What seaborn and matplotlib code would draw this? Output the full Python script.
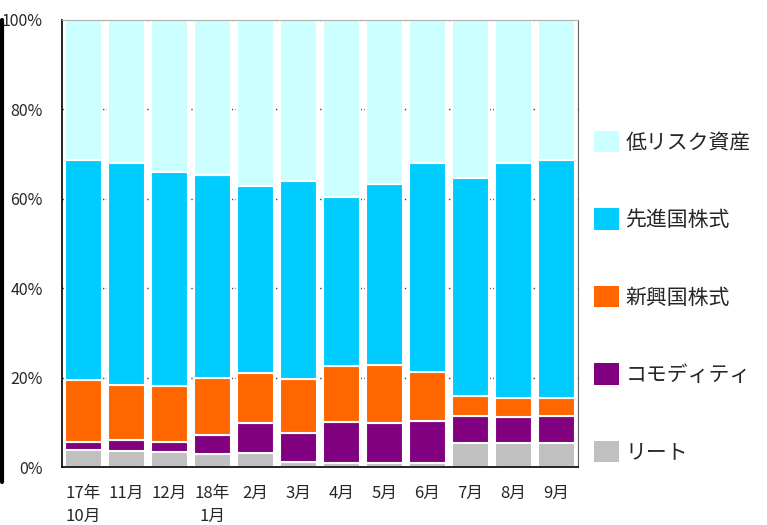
import numpy as np
import matplotlib
matplotlib.use('Agg')
import matplotlib.pyplot as plt
from matplotlib.patches import Patch
from matplotlib.lines import Line2D
import seaborn as sns

sns.set_style('white')
plt.rcParams['font.family'] = ['Noto Sans CJK JP', 'DejaVu Sans']

# Data (percent shares per month)
months = ['17年\n10月', '11月', '12月', '18年\n1月', '2月', '3月',
          '4月', '5月', '6月', '7月', '8月', '9月']
reit = [3.7, 3.6, 3.4, 2.8, 3.2, 1.2, 0.9, 0.9, 0.9, 5.4, 5.4, 5.4]
commodity = [1.8, 2.4, 2.3, 4.4, 6.7, 6.3, 9.1, 9.0, 9.5, 5.9, 5.8, 5.9]
emerging = [13.9, 12.4, 12.4, 12.6, 11.2, 12.1, 12.5, 13.0, 10.8, 4.5, 4.2, 4.1]
developed = [49.3, 49.7, 47.8, 45.6, 41.7, 44.4, 37.8, 40.3, 46.8, 48.8, 52.5, 53.3]
low_risk = [31.3, 31.9, 34.1, 34.6, 37.2, 36.0, 39.7, 36.8, 32.0, 35.4, 32.1, 31.3]

series = [('リート', reit, '#C0C0C0'),
          ('コモディティ', commodity, '#800080'),
          ('新興国株式', emerging, '#FF6600'),
          ('先進国株式', developed, '#00CCFF'),
          ('低リスク資産', low_risk, '#CCFFFF')]

fig = plt.figure(figsize=(7.67, 5.25), dpi=100)
ax = fig.add_axes([62 / 767, 1 - 467 / 525, (578 - 62) / 767, (467 - 20) / 525])

bottom = np.zeros(len(months))
for name, vals, col in series:
    vals = np.array(vals)
    sns.barplot(x=months, y=vals, bottom=bottom, color=col, width=0.87,
                edgecolor='white', linewidth=1.5, ax=ax, saturation=1)
    bottom = bottom + vals

ax.set_ylim(0, 100)
ax.set_xlim(-0.5, len(months) - 0.5)
ax.set_yticks([0, 20, 40, 60, 80, 100])
ax.set_yticklabels(['0%', '20%', '40%', '60%', '80%', '100%'])
ax.tick_params(axis='y', length=0, pad=14, labelsize=11.5)
ax.tick_params(axis='x', length=0, pad=13, labelsize=12)
for lab in ax.get_xticklabels():
    lab.set_linespacing(1.45)
    lab.set_verticalalignment('top')
ax.yaxis.grid(True, color='#404040', linestyle=':', linewidth=1)
ax.set_axisbelow(True)

ax.spines['left'].set_color('black')
ax.spines['bottom'].set_color('black')
ax.spines['left'].set_linewidth(1.2)
ax.spines['bottom'].set_linewidth(1.2)
ax.spines['top'].set_color('#B0B0B0')
ax.spines['right'].set_color('#606060')

handles = [Patch(facecolor=col, edgecolor='none', label=name)
           for name, vals, col in series[::-1]]
fig.legend(handles=handles, loc='upper left', bbox_to_anchor=(594 / 767, 1 - 131 / 525),
           frameon=False, fontsize=15, handlelength=1.2, handleheight=1.2,
           handletextpad=0.3, labelspacing=2.63, borderaxespad=0, borderpad=0)

# thick black rule at the far left edge
fig.add_artist(Line2D([1.5 / 767, 1.5 / 767], [1 - 482 / 525, 1 - 20 / 525],
                      color='black', linewidth=3, transform=fig.transFigure))

fig.savefig('out.png', dpi=100)
